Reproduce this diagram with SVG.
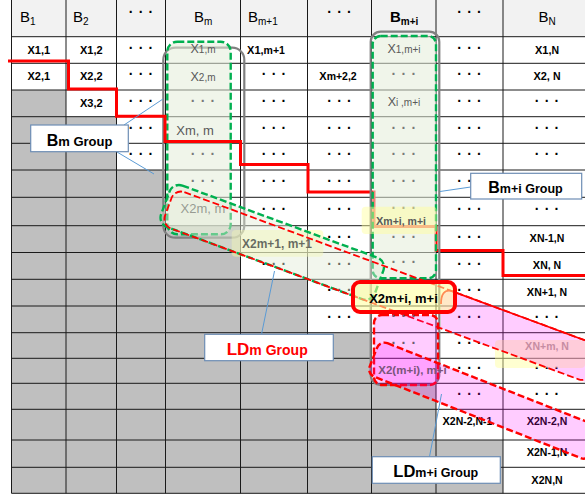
<svg xmlns="http://www.w3.org/2000/svg" width="585" height="497" viewBox="0 0 585 497">
<style>
text{font-family:'Liberation Sans',Arial,sans-serif}
.h{font-size:15px;fill:#000}
.hs{font-size:10px}
.b{font-size:11px;font-weight:bold;text-anchor:middle;fill:#000}
.s{font-size:10.5px}
.d{font-size:14px;font-weight:bold;letter-spacing:5.3px;fill:#000}
.gd{font-size:14px;font-weight:bold;letter-spacing:5.3px;fill:#7a7a7a}
.pd{font-size:14px;font-weight:bold;letter-spacing:5.3px;fill:#6e5a70}
.g{font-size:12.5px;fill:#595959;text-anchor:middle}
.gs{font-size:10px}
.grid{stroke:#1a1a1a;stroke-width:1;fill:none}
.gray-out{fill:none;stroke:#808080;stroke-width:2.2}
.green-dash{stroke:#00b050;stroke-width:2.4;stroke-dasharray:7 3}
.red-dash{fill:none;stroke:#ff0000;stroke-width:1.8;stroke-dasharray:7 3}
.red-dash2{stroke:#ff0000;stroke-width:2.4;stroke-dasharray:7 3}
.pink{fill:#ff00ff;fill-opacity:0.2}
.hl{fill:#ffff99;fill-opacity:0.45}
.lbl{fill:#fff;stroke:#6d8db4;stroke-width:1.2}
.lead{stroke:#5b9bd5;stroke-width:1;fill:none}
</style>
<rect x="0" y="0" width="585" height="497" fill="#fff"/>
<g id="table">
<rect x="11.5" y="0" width="573.5" height="36.7" fill="#f2f2f2"/>
<path d="M11.5,90 H66 V116.7 H116.5 V170 H165.5 V225.7 H240.5 V279.3 H307.5 V332.7 H371.5 V383.3 H436 V440 H503 V493.3 H11.5 Z" fill="#bfbfbf"/>
<path class="grid" d="M11.5,36.7H585M11.5,63.3H585M11.5,90H585M11.5,116.7H585M11.5,143.3H585M11.5,170H585M11.5,197.3H585M11.5,225.7H585M11.5,252.5H585M11.5,279.3H585M11.5,306H585M11.5,332.7H585M11.5,358.3H585M11.5,383.3H585M11.5,409.3H585M11.5,440H585M11.5,467.3H585M11.5,493.3H585M11.5,0V493.3M66,0V493.3M116.5,0V493.3M165.5,0V493.3M240.5,0V493.3M307.5,0V493.3M371.5,0V493.3M436,0V493.3M503,0V493.3"/>
<text class="h" x="20" y="21.5">B<tspan class="hs" dy="3.5">1</tspan></text>
<text class="h" x="73" y="21.5">B<tspan class="hs" dy="3.5">2</tspan></text>
<text class="d" x="128.7" y="17.2">···</text>
<text class="h" x="194" y="21.5">B<tspan class="hs" dy="3.5">m</tspan></text>
<text class="h" x="248" y="21.5">B<tspan class="hs" dy="3.5">m+1</tspan></text>
<text class="d" x="327.2" y="17.2">···</text>
<text class="h" x="390" y="21.5" font-weight="bold">B<tspan class="hs" dy="3.5">m+i</tspan></text>
<text class="d" x="457.2" y="17.2">···</text>
<text class="h" x="538.5" y="21.5">B<tspan class="hs" dy="3.5">N</tspan></text>
<text class="b" x="38.75" y="53.5">X1,1</text>
<text class="b" x="91.25" y="53.5">X1,2</text>
<text class="b" x="266" y="53.5">X1,<tspan class="s">m+1</tspan></text>
<text class="b" x="547" y="53.5">X1,<tspan class="s">N</tspan></text>
<text class="b" x="38.75" y="80.2">X2,1</text>
<text class="b" x="91.25" y="80.2">X2,2</text>
<text class="b" x="338" y="80.2">X<tspan class="s">m+2,2</tspan></text>
<text class="b" x="547" y="80.2">X2, <tspan class="s">N</tspan></text>
<text class="b" x="91.25" y="106.8">X3,2</text>
<text class="b" x="547" y="242">X<tspan class="s">N-1,N</tspan></text>
<text class="b" x="547" y="268.5">X<tspan class="s">N, N</tspan></text>
<text class="b" x="547" y="295.5">X<tspan class="s">N+1, N</tspan></text>
<text class="b" x="547" y="349.5" style="fill:#7d6e80">X<tspan class="s">N+m, N</tspan></text>
<text class="b" x="467.5" y="424.5">X<tspan class="s">2N-2,N-1</tspan></text>
<text class="b" x="547" y="424.5">X<tspan class="s">2N-2,N</tspan></text>
<text class="b" x="547" y="455.5">X<tspan class="s">2N-1,N</tspan></text>
<text class="b" x="547" y="483.5">X<tspan class="s">2N,N</tspan></text>
<text class="d" x="128.7" y="52.5">···</text>
<text class="d" x="457.2" y="52.5">···</text>
<text class="d" x="128.7" y="79.2">···</text>
<text class="d" x="261.7" y="79.2">···</text>
<text class="d" x="457.2" y="79.2">···</text>
<text class="d" x="128.7" y="105.8">···</text>
<text class="d" x="261.7" y="105.8">···</text>
<text class="d" x="327.2" y="105.8">···</text>
<text class="d" x="457.2" y="105.8">···</text>
<text class="d" x="534.7" y="105.8">···</text>
<text class="d" x="128.7" y="132.5">···</text>
<text class="d" x="261.7" y="132.5">···</text>
<text class="d" x="327.2" y="132.5">···</text>
<text class="d" x="457.2" y="132.5">···</text>
<text class="d" x="534.7" y="132.5">···</text>
<text class="d" x="128.7" y="159.2">···</text>
<text class="d" x="261.7" y="159.2">···</text>
<text class="d" x="327.2" y="159.2">···</text>
<text class="d" x="457.2" y="159.2">···</text>
<text class="d" x="534.7" y="159.2">···</text>
<text class="d" x="261.7" y="186.2">···</text>
<text class="d" x="327.2" y="186.2">···</text>
<text class="d" x="457.2" y="186.2">···</text>
<text class="d" x="261.7" y="214">···</text>
<text class="d" x="327.2" y="214">···</text>
<text class="d" x="457.2" y="214">···</text>
<text class="d" x="534.7" y="214">···</text>
<text class="d" x="327.2" y="241.5">···</text>
<text class="d" x="457.2" y="241.5">···</text>
<text class="d" x="261.7" y="268.5">···</text>
<text class="d" x="327.2" y="268.5">···</text>
<text class="d" x="457.2" y="268.5">···</text>
<text class="d" x="327.2" y="295.2">···</text>
<text class="d" x="457.2" y="295.2">···</text>
<text class="d" x="327.2" y="321.8">···</text>
<text class="d" x="457.2" y="321.8">···</text>
<text class="d" x="534.7" y="321.8">···</text>
<text class="d" x="457.2" y="348">···</text>
<text class="d" x="457.2" y="373.3">···</text>
<text class="d" x="534.7" y="373.3">···</text>
<text class="d" x="457.2" y="398.8">···</text>
<text class="d" x="534.7" y="398.8">···</text>
</g>
<g id="group-bm">
<rect x="163.3" y="47.7" width="81" height="190" rx="12" class="gray-out"/>
<rect x="167.3" y="41.7" width="63.4" height="192.6" rx="10" fill="#e3ecd8" fill-opacity="0.55" class="green-dash"/>
<text class="g" x="203" y="53.3">X<tspan class="gs">1,m</tspan></text>
<text class="g" x="203" y="81">X<tspan class="gs">2,m</tspan></text>
<text class="gd" x="190.7" y="105.8">···</text>
<text class="g" x="195" y="135" style="font-size:13px">Xm, m</text>
<text class="gd" x="190.7" y="159.2">···</text>
<text class="gd" x="190.7" y="186.2">···</text>
<text class="g" x="203" y="213" style="font-size:13px">X2m, m</text>
</g>
<g id="staircase">
<polyline points="8,61 68.5,61 68.5,89 116.5,89 116.5,116.2 165,116.2 165,141.5 240.5,141.5 240.5,164.5 308,164.5 308,192 374,192 374,226.5 436,226.5 436,250.5 503,250.5 503,275.5 585,275.5" fill="none" stroke="#ff0000" stroke-width="3"/>
</g>
<g id="group-bmi">
<rect x="370.7" y="31.7" width="68.6" height="353.3" rx="10" class="gray-out"/>
<rect x="372.7" y="36" width="63.3" height="242.3" rx="8" fill="#e3ecd8" fill-opacity="0.55" class="green-dash"/>
<text class="g" x="404" y="53">X<tspan class="gs">1,m+i</tspan></text>
<text class="gd" x="391.5" y="79.2">···</text>
<text class="g" x="404" y="106">X<tspan class="gs">i ,m+i</tspan></text>
<text class="gd" x="391.5" y="132.5">···</text>
<text class="gd" x="391.5" y="159.2">···</text>
<text class="gd" x="391.5" y="186.2">···</text>
<text class="gd" x="391.5" y="213">···</text>
<text class="gd" x="391.5" y="241.5">···</text>
<text class="gd" x="391.5" y="267">···</text>
</g>
<g id="highlights">
<rect x="231.7" y="230" width="91.6" height="26.7" rx="4" class="hl"/>
<text x="277" y="248" style="font-size:12px;font-weight:bold;text-anchor:middle">X2m+1, m+1</text>
<rect x="361.7" y="206.7" width="75" height="27.3" rx="4" class="hl"/>
<text class="b" x="401" y="225" style="fill:#595959">X<tspan class="s">m+i, m+i</tspan></text>
<rect x="495" y="340" width="90" height="28" rx="4" class="hl"/>
</g>
<g id="group-ldm">
<rect transform="translate(173,182.1) rotate(20.3)" x="0" y="0" width="228" height="44.2" rx="10" fill="#e3ecd8" fill-opacity="0.45" class="green-dash"/>
<path d="M441,304 Q441,289 451,290.8 L601,346.3 L601,387.6 L441,328.4 Z" class="pink"/>
<path d="M441,304 Q441,289 451,290.8 L601,346.3" fill="none" stroke="#ff0000" stroke-width="1.8"/>
<rect transform="translate(175,188.65) rotate(20.3)" x="0" y="0" width="454.7" height="38.8" rx="10" class="red-dash"/>
</g>
<g id="group-ldmi">
<rect x="374" y="315" width="64" height="70" rx="8" class="pink red-dash2"/>
<rect transform="translate(380,340.3) rotate(21.5)" x="0" y="0" width="238" height="36" rx="8" class="pink red-dash2"/>
<text class="pd" x="391.5" y="321">···</text>
<text class="pd" x="391.5" y="348">···</text>
<text x="412.5" y="374" style="font-size:11.5px;font-weight:bold;text-anchor:middle;fill:#7a557a">X2(m+i), m+i</text>
</g>
<g id="x2mi-box">
<rect x="353" y="282" width="102" height="30" rx="7" fill="#ffff99" fill-opacity="0.55" stroke="#ff0000" stroke-width="4"/>
<text x="403.5" y="303" style="font-size:13px;font-weight:bold;text-anchor:middle">X2m+i, m+i</text>
</g>
<g id="connectors">
<line class="lead" x1="124" y1="125" x2="163" y2="99"/>
<line class="lead" x1="117" y1="152" x2="154" y2="174"/>
<line class="lead" x1="470.7" y1="187" x2="440" y2="191.5"/>
<line class="lead" x1="261.5" y1="334.3" x2="274.5" y2="271"/>
<line class="lead" x1="429.5" y1="456.7" x2="441.5" y2="394"/>
</g>
<g id="label-bm">
<rect x="30.7" y="125" width="97.6" height="26.7" class="lbl"/>
<text x="46.7" y="145.7" style="font-size:16px;font-weight:bold">B<tspan style="font-size:13px">m Group</tspan></text>
</g>
<g id="label-bmi">
<rect x="470.7" y="173.3" width="111" height="25.7" class="lbl"/>
<text x="488.3" y="193.3" style="font-size:16px;font-weight:bold">B<tspan style="font-size:12.5px">m+i Group</tspan></text>
</g>
<g id="label-ldm">
<rect x="204.7" y="334.3" width="128.6" height="26.4" class="lbl"/>
<text x="226.7" y="355" style="font-size:17px;font-weight:bold;fill:#ff0000">LD<tspan style="font-size:14px">m Group</tspan></text>
</g>
<g id="label-ldmi">
<rect x="372.3" y="456.7" width="128" height="26.6" class="lbl"/>
<text x="393.3" y="476.7" style="font-size:16.5px;font-weight:bold">LD<tspan style="font-size:12.5px">m+i Group</tspan></text>
</g>
</svg>
